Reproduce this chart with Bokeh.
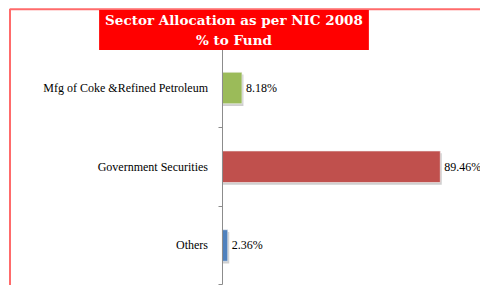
from bokeh.plotting import figure
from bokeh.models import (ColumnDataSource, Range1d, LinearAxis, FixedTicker,
                          Label, BoxAnnotation)
from bokeh.core.properties import value
from bokeh.embed import file_html
from bokeh.resources import INLINE

categories = ["Mfg of Coke &Refined Petroleum", "Government Securities", "Others"]
values = [8.18, 89.46, 2.36]
colors = ["#9BBB59", "#C0504D", "#4F81BD"]
value_labels = ["8.18%", "89.46%", "2.36%"]
title_lines = ["Sector Allocation as per NIC 2008", "% to Fund"]

idx = list(range(len(categories)))
src = ColumnDataSource(dict(
    y=idx, v=values, c=colors, lab=value_labels,
    sh_y=[i + 0.03 for i in idx], sh_r=[v + 0.6 for v in values],
))

p = figure(width=480, height=285, output_backend="svg", toolbar_location=None,
           x_range=Range1d(-90.78, 105.94), y_range=Range1d(2.508, -1.111),
           x_axis_type=None, y_axis_type=None,
           min_border=0, min_border_left=0, min_border_right=0,
           min_border_top=0, min_border_bottom=0)
p.outline_line_color = None
p.grid.visible = False
p.background_fill_color = "white"
p.border_fill_color = "white"

# chart-area border (only its left and top edges fall inside the picture)
p.add_layout(BoxAnnotation(left=-86.89, right=300, top=-0.9994, bottom=10,
                           fill_color=None, fill_alpha=0,
                           line_color="#ff6b6b", line_alpha=1.0, line_width=2))

# shadows
p.hbar(y="sh_y", left=0.4, right="sh_r", height=0.4, source=src,
       fill_color="#cfcfcf", line_color=None)
# bars
p.hbar(y="y", left=0, right="v", height=0.4, source=src,
       fill_color="c", line_color="#f4f4f4", line_width=0.6)
# value labels
p.text(x="v", y="y", text="lab", source=src, x_offset=4,
       text_align="left", text_baseline="middle",
       text_font=value("Liberation Serif"), text_font_size="12px",
       text_color="#000000")

# category axis placed at x = 0
ax = LinearAxis(fixed_location=0, bounds=(-0.5, 2.5),
                ticker=FixedTicker(ticks=idx, minor_ticks=[-0.5, 0.5, 1.5, 2.5]),
                major_label_overrides={i: c for i, c in zip(idx, categories)})
ax.axis_line_color = "#8c8c8c"
ax.major_tick_out = 0
ax.major_tick_in = 0
ax.minor_tick_out = 4
ax.minor_tick_in = 0
ax.minor_tick_line_color = "#8c8c8c"
ax.major_label_standoff = 10
ax.major_label_text_font = "Liberation Serif"
ax.major_label_text_font_size = "12px"
ax.major_label_text_color = "#000000"
p.add_layout(ax, "left")

# title box
p.add_layout(Label(x=233.5, y=255.5, x_units="screen", y_units="screen",
                   text="\n".join(title_lines), text_align="center",
                   text_baseline="middle", text_font="DejaVu Serif",
                   text_font_style="bold", text_font_size="13.5px",
                   text_color="white", text_line_height=1.25,
                   background_fill_color="#FF0000",
                   padding=dict(left=6, right=6, top=2, bottom=2)))

open("out.html", "w").write(file_html(p, INLINE))
